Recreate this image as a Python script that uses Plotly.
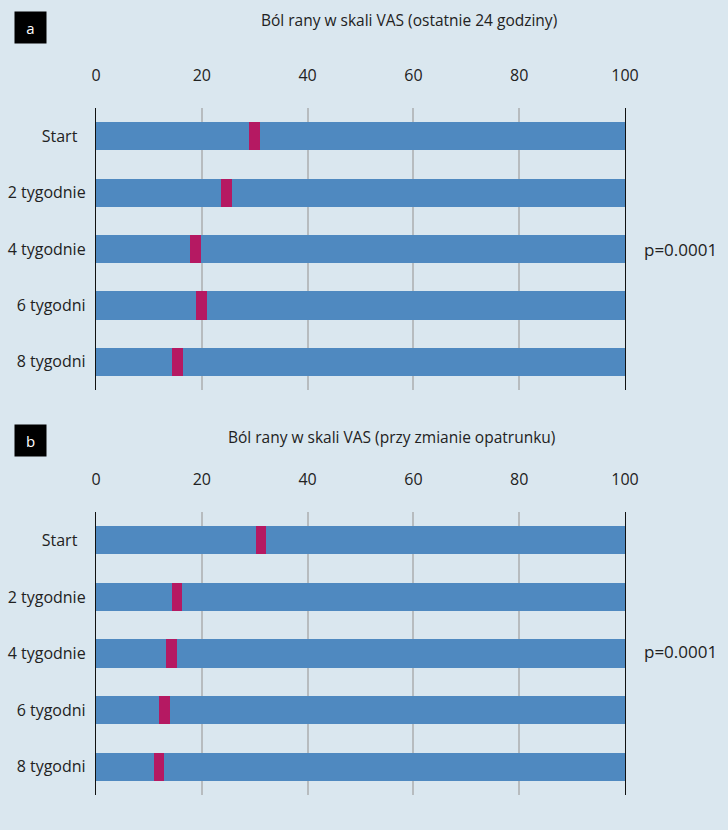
import plotly.graph_objects as go
from plotly.subplots import make_subplots

# Time points and VAS wound-pain scores (0-100)
categories = ["Start", "2 tygodnie", "4 tygodnie", "6 tygodni", "8 tygodni"]
category_text = ["Start\u00a0\u00a0", "2 tygodnie", "4 tygodnie", "6 tygodni", "8 tygodni"]
vas_24h = [30.0, 24.7, 18.8, 19.9, 15.4]          # panel a: last 24 hours
vas_dressing = [31.2, 15.3, 14.3, 12.9, 11.9]     # panel b: during dressing change
scale_max = [100, 100, 100, 100, 100]
marker_width = 2.0

x_ticks = [0, 20, 40, 60, 80, 100]
panel_titles = ["Ból rany w skali VAS (ostatnie 24 godziny)",
                "Ból rany w skali VAS (przy zmianie opatrunku)"]
panel_letters = ["a", "b"]
p_values = ["p=0.0001", "p=0.0001"]

BG = "#dae7ef"
BLUE = "#4f89c0"
MAGENTA = "#b51962"
GRID = "#b7bcbf"
TEXT = "#222222"
FONT = "Open Sans"

W, H = 728, 830
x_dom = [96 / W, 625 / W]
y_doms = [[1 - 390 / H, 1 - 108 / H], [1 - 795 / H, 1 - 512 / H]]

fig = make_subplots(rows=2, cols=1)

for i, vals in enumerate([vas_24h, vas_dressing]):
    row = i + 1
    # full 0-100 scale bar
    fig.add_trace(go.Bar(
        y=categories, x=scale_max, orientation="h",
        marker=dict(color=BLUE, line=dict(width=0)), width=0.5,
        hoverinfo="skip", showlegend=False), row=row, col=1)
    # score marker centred on the mean value
    fig.add_trace(go.Bar(
        y=categories, x=[marker_width] * len(vals),
        base=[v - marker_width / 2 for v in vals], orientation="h",
        marker=dict(color=MAGENTA, line=dict(width=0)), width=0.5,
        showlegend=False), row=row, col=1)

axis_common_x = dict(
    range=[0, 100], side="top", tickvals=x_ticks,
    showgrid=True, gridcolor=GRID, gridwidth=2, zeroline=False,
    showline=False, ticks="outside", ticklen=20, tickcolor="rgba(0,0,0,0)",
    tickfont=dict(family=FONT, size=16, color=TEXT),
    domain=x_dom, fixedrange=True, automargin=False,
)
axis_common_y = dict(
    autorange=False, range=[4.5, -0.5], type="category",
    tickvals=categories, ticktext=category_text,
    showline=True, mirror=True, linecolor="#111111", linewidth=1.3,
    showgrid=False, zeroline=False, ticks="", ticklabelstandoff=6,
    tickfont=dict(family=FONT, size=16, color=TEXT),
    fixedrange=True, automargin=False,
)

fig.update_layout(
    xaxis=dict(axis_common_x, anchor="y"),
    xaxis2=dict(axis_common_x, anchor="y2"),
    yaxis=dict(axis_common_y, domain=y_doms[0], anchor="x"),
    yaxis2=dict(axis_common_y, domain=y_doms[1], anchor="x2"),
    barmode="overlay", bargap=0,
    width=W, height=H,
    margin=dict(l=0, r=0, t=0, b=0, autoexpand=False),
    paper_bgcolor=BG, plot_bgcolor=BG,
    font=dict(family=FONT, color=TEXT),
)

annotations = []
title_centers = [409, 391]
title_y = [20, 437]
letter_y = [27, 440]
p_y = [249, 651]
for i in range(2):
    annotations.append(dict(
        text=panel_titles[i], x=title_centers[i] / W, y=1 - title_y[i] / H,
        xref="paper", yref="paper", xanchor="center", yanchor="middle",
        showarrow=False, font=dict(family=FONT, size=15.5, color=TEXT)))
    annotations.append(dict(
        text=panel_letters[i], x=14 / W, y=1 - letter_y[i] / H,
        xref="paper", yref="paper", xanchor="left", yanchor="middle",
        showarrow=False, bgcolor="#000000", width=29, height=29, borderpad=1,
        font=dict(family=FONT, size=15, color="#ffffff")))
    annotations.append(dict(
        text=p_values[i], x=642 / W, y=1 - p_y[i] / H,
        xref="paper", yref="paper", xanchor="left", yanchor="middle",
        showarrow=False, font=dict(family=FONT, size=17, color=TEXT)))
fig.update_layout(annotations=annotations)

fig.write_html("out.html")
